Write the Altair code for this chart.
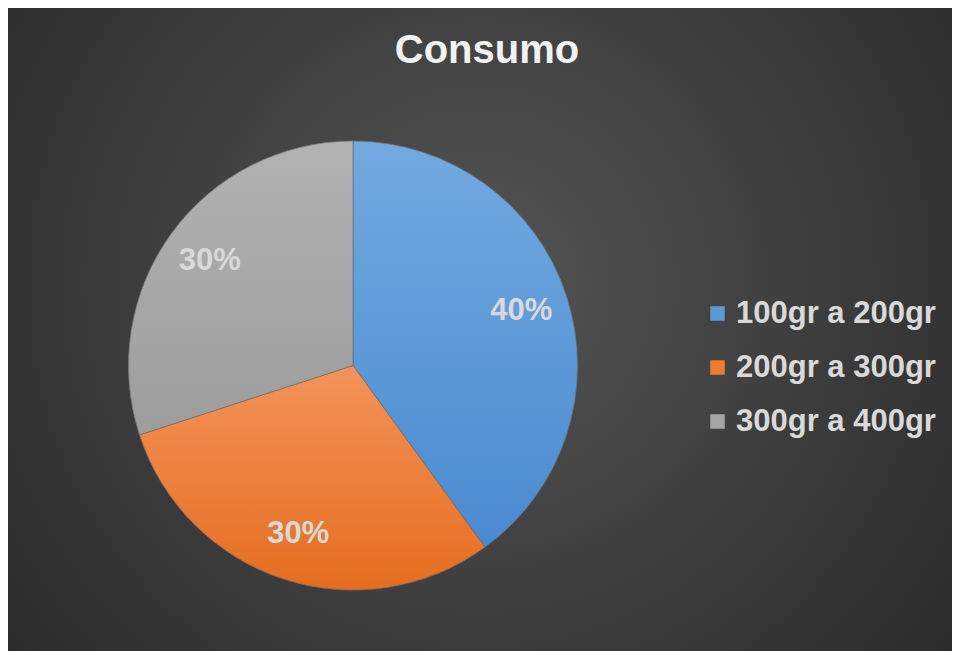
import math
import altair as alt
import pandas as pd

# ---- data ----
categories = ["100gr a 200gr", "200gr a 300gr", "300gr a 400gr"]
values = [40, 30, 30]
labels = ["40%", "30%", "30%"]
colors = ["#5b9bd5", "#ed7d31", "#a5a5a5"]
grad_top = ["#72aae0", "#f4935a", "#b2b2b2"]
grad_bottom = ["#4a8ad0", "#e56d1f", "#9d9d9d"]

total = sum(values)
starts, ends = [], []
acc = 0
for v in values:
    starts.append(acc / total * 2 * math.pi)
    acc += v
    ends.append(acc / total * 2 * math.pi)

df = pd.DataFrame({
    "cat": categories,
    "value": values,
    "label": labels,
    "start": starts,
    "end": ends,
    "mid": [(s + e) / 2 for s, e in zip(starts, ends)],
})

W, H = 944, 644
CX, CY = 345, 357.5
R = 224.5
RL = 177

bg = alt.Chart(pd.DataFrame({"d": [0]})).mark_rect(
    color={
        "gradient": "radial",
        "x1": 0.5, "y1": 0.45, "r1": 0,
        "x2": 0.5, "y2": 0.45, "r2": 0.72,
        "stops": [
            {"offset": 0, "color": "#545454"},
            {"offset": 1, "color": "#262626"},
        ],
    }
).encode(x=alt.value(0), x2=alt.value(W), y=alt.value(0), y2=alt.value(H))

base = alt.Chart(df)

pie = base.mark_arc(outerRadius=R, stroke="#666666", strokeWidth=0.6).encode(
    theta=alt.Theta("start:Q", scale=None),
    theta2="end:Q",
    color=alt.Color(
        "cat:N",
        scale=alt.Scale(domain=categories, range=colors),
        legend=alt.Legend(
            orient="none", legendX=694, legendY=290, title=None,
            symbolType="square", symbolSize=210, symbolStrokeWidth=0,
            labelFontSize=31, labelFont="Liberation Sans", labelFontWeight="bold",
            labelColor="#d9d9d9", rowPadding=22, labelOffset=3, padding=0,
            labelLimit=400,
        ),
    ),
    x=alt.value(CX), y=alt.value(CY),
)

grad_layers = []
for i, c in enumerate(categories):
    grad_layers.append(
        base.transform_filter(alt.datum.cat == c).mark_arc(
            outerRadius=R, stroke="#666666", strokeWidth=0.6,
            color={
                "gradient": "linear", "x1": 0, "y1": 0, "x2": 0, "y2": 1,
                "stops": [
                    {"offset": 0, "color": grad_top[i]},
                    {"offset": 1, "color": grad_bottom[i]},
                ],
            },
        ).encode(
            theta=alt.Theta("start:Q", scale=None),
            theta2="end:Q",
            x=alt.value(CX), y=alt.value(CY),
        )
    )

text = base.mark_text(
    radius=RL, font="Liberation Sans", fontSize=31, fontWeight="bold",
    color="#d9d9d9", align="center", baseline="middle",
).encode(
    theta=alt.Theta("mid:Q", scale=None),
    text="label:N",
    x=alt.value(CX), y=alt.value(CY),
)

chart = alt.layer(bg, pie, *grad_layers, text).properties(
    width=W, height=H,
    autosize=alt.AutoSizeParams(type="none"),
    padding=0,
    background="#2b2b2b",
    title=alt.TitleParams(
        "Consumo", font="Liberation Sans", fontSize=40, fontWeight="bold",
        color="#f2f2f2", anchor="middle", baseline="alphabetic", offset=0, dy=95, dx=7,
    ),
).configure_view(stroke=None)

chart.save("out.html", embed_options={"renderer": "svg", "actions": False})
